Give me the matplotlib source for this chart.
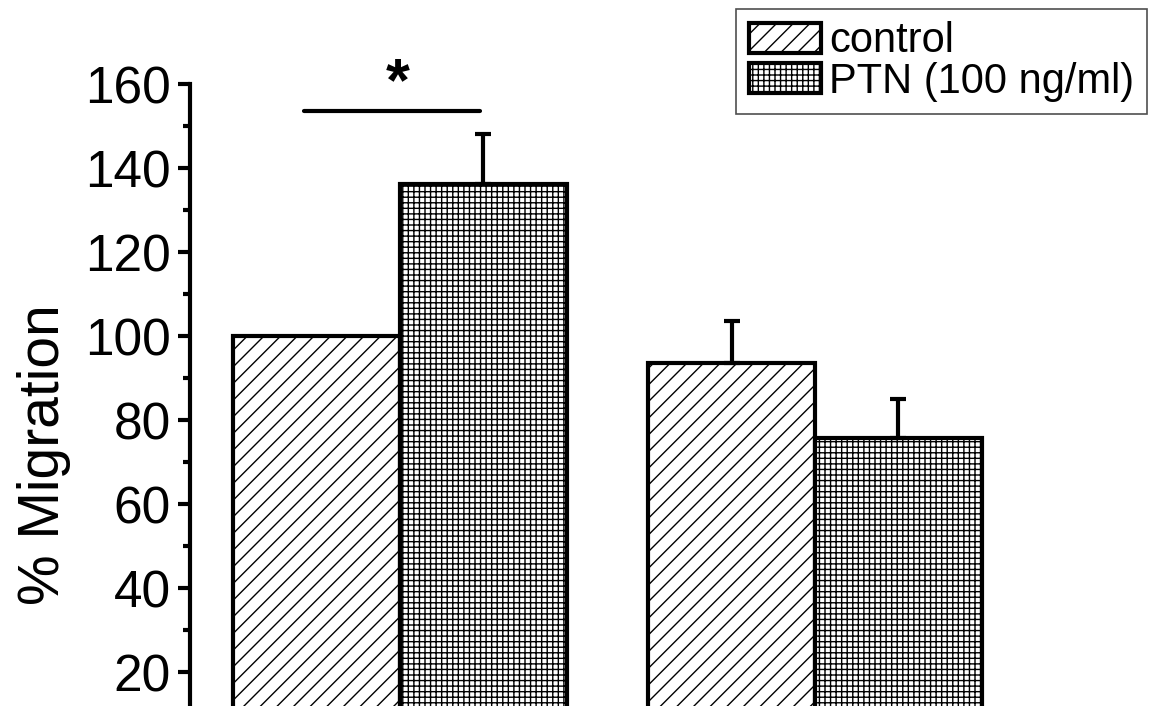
import matplotlib
matplotlib.use("Agg")
import matplotlib.pyplot as plt
from matplotlib.patches import Patch
from matplotlib.ticker import MultipleLocator

plt.rcParams['font.family'] = ['Liberation Sans', 'DejaVu Sans']
plt.rcParams['hatch.linewidth'] = 1.0

# data
groups = [0, 1]
series = ["control", "PTN (100 ng/ml)"]
control = [100.0, 93.5]
control_err = [0.0, 10.0]
ptn = [136.3, 75.8]
ptn_err = [11.8, 9.2]
yticks = [20, 40, 60, 80, 100, 120, 140, 160]
hatches = ["//", "+++"]

fig = plt.figure(figsize=(11.54, 7.06), dpi=100)
# axes run below the bottom edge: the reference is cropped at about y=12
ax = fig.add_axes([190/1154, -50/706, (1154-190)/1154, 672/706])

w = 0.402
xs_c = [g - w/2 for g in groups]
xs_p = [g + w/2 for g in groups]
ax.bar(xs_c, control, width=w, facecolor="white", edgecolor="black",
       hatch=hatches[0], linewidth=3)
ax.bar(xs_p, ptn, width=w, facecolor="white", edgecolor="black",
       hatch=hatches[1], linewidth=3)

# upper error bars only
for xs, vals, errs in [(xs_c, control, control_err), (xs_p, ptn, ptn_err)]:
    for x, v, e in zip(xs, vals, errs):
        if e > 0:
            ax.errorbar(x, v, yerr=[[0], [e]], fmt="none", ecolor="black",
                        elinewidth=3, capsize=6, capthick=3)

# significance marker
ax.plot([xs_c[0] - 0.03, xs_p[0] - 0.007], [153.5, 153.5], color="black",
        lw=3, clip_on=False, solid_capstyle="round")
ax.text(groups[0] - 0.005, 153, "*", ha="center", va="bottom", fontsize=44,
        fontweight="bold", clip_on=False)

ax.set_xlim(-0.506, 1.817)
ax.set_ylim(0, 160)
ax.set_yticks(yticks)
ax.yaxis.set_minor_locator(MultipleLocator(10))
ax.tick_params(axis="y", which="major", length=9, width=3, labelsize=37, pad=5)
ax.tick_params(axis="y", which="minor", length=5, width=3)
ax.set_xticks([])
for s in ["top", "right", "bottom"]:
    ax.spines[s].set_visible(False)
ax.spines["left"].set_linewidth(3)

ax.set_ylabel("% Migration", fontsize=41)
ax.yaxis.set_label_coords(-0.123, 0.448)

handles = [Patch(facecolor="white", edgecolor="black", hatch=h, linewidth=3)
           for h in hatches]
leg = ax.legend(handles, series, loc="upper right", fontsize=30,
                bbox_to_anchor=(1147/1154, 1 - 9/706),
                bbox_transform=fig.transFigure, fancybox=False,
                handlelength=1.73, handleheight=0.7, handletextpad=0.2,
                borderpad=0.3, labelspacing=0.0, borderaxespad=0)
leg.get_frame().set_edgecolor("#222222")
leg.get_frame().set_linewidth(1.2)

fig.savefig("out.png", dpi=100)
